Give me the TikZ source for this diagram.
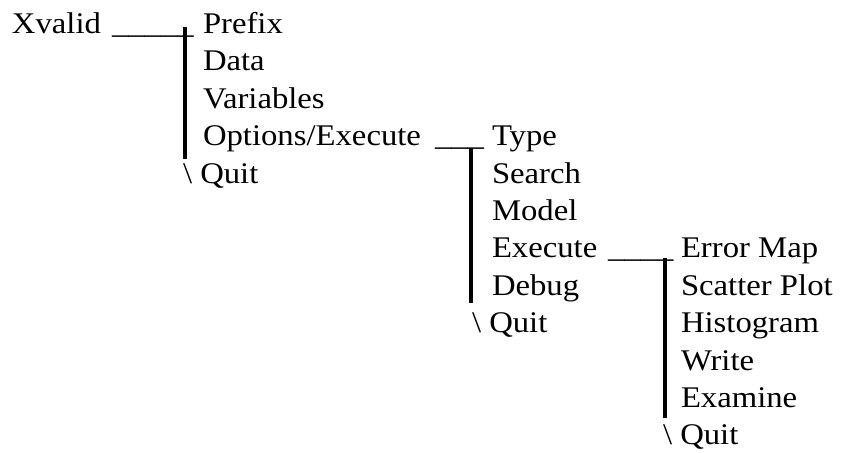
\documentclass[tikz,border=0pt]{standalone}
\usepackage{fontspec}
\setmainfont{Liberation Serif}[FakeStretch=1.09]
\begin{document}
\begin{tikzpicture}[x=1pt,y=-1pt,
  every node/.style={anchor=base west,inner sep=0pt,outer sep=0pt,font=\fontsize{30}{36}\selectfont},
  bar/.style={line width=4pt}]
\useasboundingbox (0,0) rectangle (842,452);
\def\rowsp{37.4}
\def\rowz{33.5}
% column 0
\node (xvalid) at (12,\rowz) {Xvalid};
\node (u1) at (112,\rowz) {\_\_\_\_\_};
% column 1
\node (prefix) at (203,\rowz+0*\rowsp) {Prefix};
\node (data) at (203,\rowz+1*\rowsp) {Data};
\node (variables) at (203,\rowz+2*\rowsp) {Variables};
\node (options) at (203,\rowz+3*\rowsp) {Options/Execute};
\node (q1) at (183,\rowz+4*\rowsp) {\textbackslash\ Quit};
\node (u2) at (435,\rowz+3*\rowsp) {\_\_\_};
% column 2
\node (type) at (492,\rowz+3*\rowsp) {Type};
\node (search) at (492,\rowz+4*\rowsp) {Search};
\node (model) at (492,\rowz+5*\rowsp) {Model};
\node (execute) at (492,\rowz+6*\rowsp) {Execute};
\node (debug) at (492,\rowz+7*\rowsp) {Debug};
\node (q2) at (472,\rowz+8*\rowsp) {\textbackslash\ Quit};
\node (u3) at (608,\rowz+6*\rowsp) {\_\_\_\_};
% column 3
\node (errormap) at (681,\rowz+6*\rowsp) {Error Map};
\node (scatter) at (681,\rowz+7*\rowsp) {Scatter Plot};
\node (histogram) at (681,\rowz+8*\rowsp) {Histogram};
\node (write) at (681,\rowz+9*\rowsp) {Write};
\node (examine) at (681,\rowz+10*\rowsp) {Examine};
\node (q3) at (663,\rowz+11*\rowsp) {\textbackslash\ Quit};
% vertical bars
\coordinate (b1t) at (185,27);
\coordinate (b1b) at (185,159);
\coordinate (b2t) at (471,148);
\coordinate (b2b) at (471,303);
\coordinate (b3t) at (664.5,258);
\coordinate (b3b) at (664.5,418);
\draw[bar] (b1t) -- (b1b);
\draw[bar] (b2t) -- (b2b);
\draw[bar] (b3t) -- (b3b);
\end{tikzpicture}
\end{document}
